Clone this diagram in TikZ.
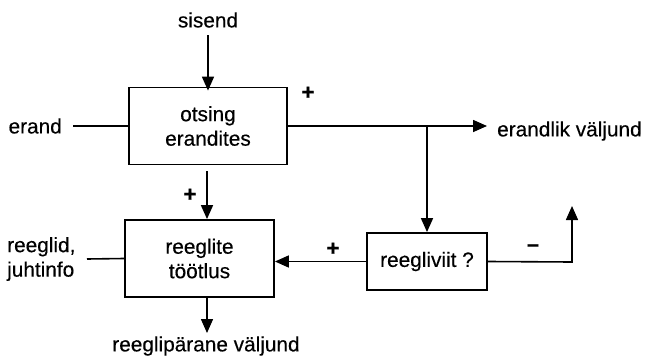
\documentclass[tikz,border=0pt]{standalone}
\usepackage{fontspec}
\setmainfont[FakeBold=0.35]{Liberation Sans}
\usetikzlibrary{arrows.meta}
\begin{document}
\begin{tikzpicture}[x=1pt,y=-1pt,
  every node/.style={font=\fontsize{20.8}{24.5}\selectfont},
  block/.style={draw,line width=1.8pt,align=center,inner sep=0pt},
  wire/.style={line width=1.6pt},
  arr/.style={wire,-{Triangle[length=14pt,width=12pt]}},
  sign/.style={inner sep=0pt,font=\fontsize{22}{24}\selectfont\bfseries}]
\useasboundingbox (0,0) rectangle (649,359);

% blocks
\node[block,minimum width=158pt,minimum height=77pt] (search) at (208,126) {otsing\\erandites};
\node[block,minimum width=149pt,minimum height=77pt] (rules) at (199.5,258.5) {reeglite\\töötlus};
\node[block,minimum width=120pt,minimum height=57pt] (check) at (427,261.5) {reegliviit ?};

% free labels
\node (in) at (208,20) {sisend};
\node[anchor=east,inner sep=0pt] (exc) at (62,126) {erand};
\node[anchor=west,inner sep=0pt] (excout) at (497,131) {erandlik väljund};
\node[anchor=west,align=left,inner sep=0pt] (rin) at (7,259) {reeglid,\\juhtinfo};
\node (rout) at (206,346) {reeglipärane väljund};

% signs
\node[sign] (p1) at (308,93) {+};
\node[sign] (p2) at (190,195) {+};
\node[sign] (p3) at (333,249) {+};
\node[sign] (m1) at (533,248) {–};

% junction and free ends
\coordinate (jn) at (427,126);
\coordinate (tip) at (487,126);
\coordinate (up) at (572,262);
\coordinate (uptip) at (572,206);
\coordinate (downtip) at (207,333);

% connectors
\draw[arr] (208,35) -- ([yshift=-4pt]search.north);
\draw[wire] (73,126) -- (search.west);
\draw[arr] (search.east) -- (tip);
\draw[arr] (jn) -- (check.north);
\draw[arr] ([yshift=-6pt]search.south -| 207,0) -- (rules.north -| 207,0);
\draw[wire] (87,259) -- (rules.west);
\draw[arr] (check.west) -- (rules.east |- check.west);
\draw[arr] (check.east) -- (up) -- (uptip);
\draw[arr] (rules.south -| 207,0) -- (downtip);
\end{tikzpicture}
\end{document}
